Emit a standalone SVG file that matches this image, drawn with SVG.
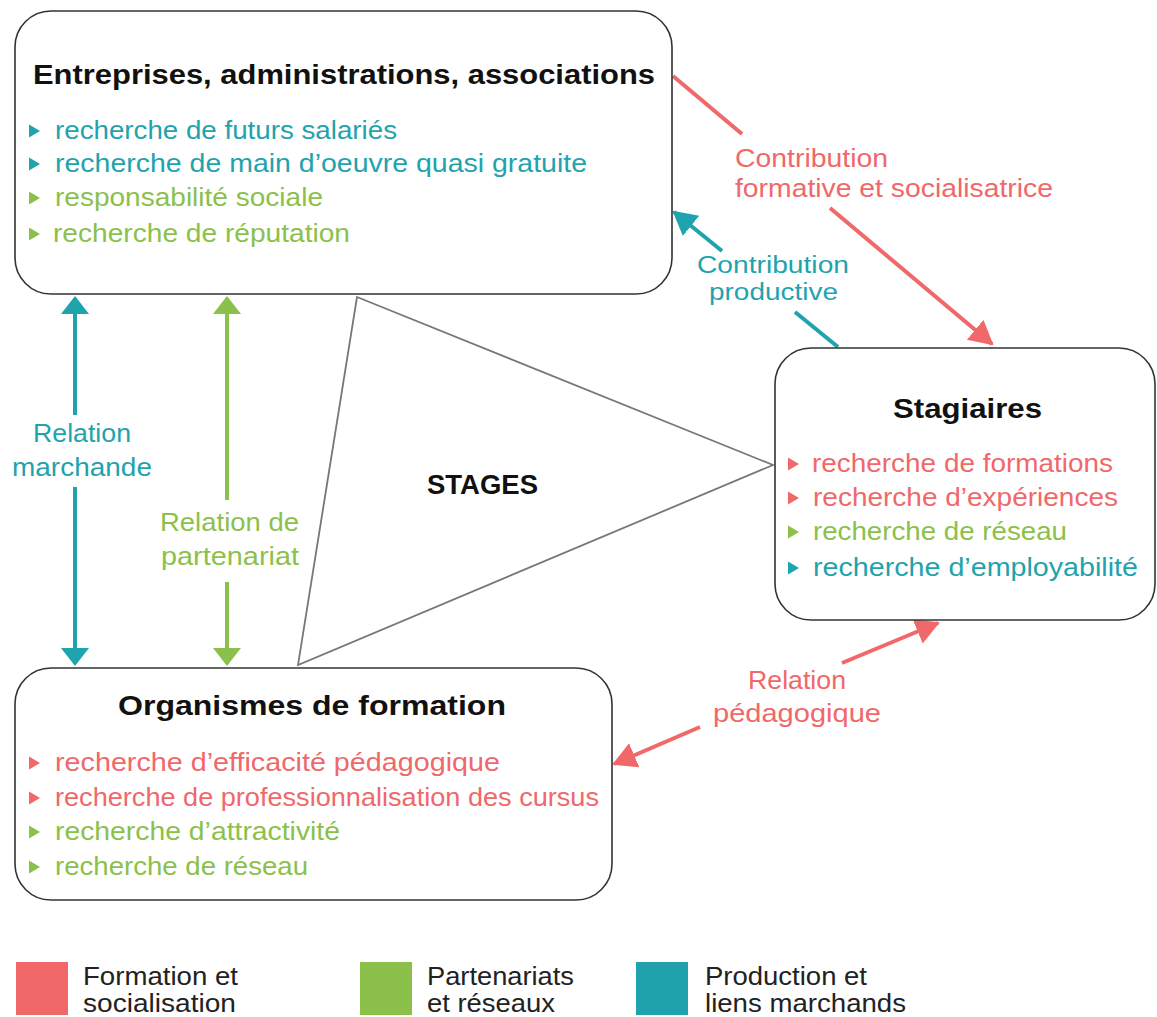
<svg xmlns="http://www.w3.org/2000/svg" width="1157" height="1017" viewBox="0 0 1157 1017">
<style>
text{font-family:"Liberation Sans","DejaVu Sans",sans-serif}
.box{fill:#fff;stroke:#333;stroke-width:1.6}
.h{font-weight:bold;font-size:27px;fill:#111}
.it{font-size:26px}
.r{fill:#f0686a}
.g{fill:#8bc14b}
.t{fill:#1fa3ad}
.lab{font-size:26px}
.sm{font-size:23px}
.leg{font-size:25px;fill:#222}
.lr{stroke:#f0686a;stroke-width:4;fill:none}
.lg{stroke:#8bc14b;stroke-width:4;fill:none}
.lt{stroke:#1fa3ad;stroke-width:4;fill:none}
</style>
<defs>
<marker id="ar" markerUnits="userSpaceOnUse" markerWidth="26" markerHeight="28" refX="22" refY="13" orient="auto"><path d="M0,0 L24,13 L0,26 z" fill="#f0686a"/></marker>
<marker id="at" markerUnits="userSpaceOnUse" markerWidth="26" markerHeight="28" refX="22" refY="13" orient="auto"><path d="M0,0 L24,13 L0,26 z" fill="#1fa3ad"/></marker>
<marker id="avt" markerUnits="userSpaceOnUse" markerWidth="22" markerHeight="30" refX="16" refY="14" orient="auto"><path d="M0,0 L18,14 L0,28 z" fill="#1fa3ad"/></marker>
<marker id="avg" markerUnits="userSpaceOnUse" markerWidth="22" markerHeight="30" refX="16" refY="14" orient="auto"><path d="M0,0 L18,14 L0,28 z" fill="#8bc14b"/></marker>
<path id="bul" d="M0,-6.5 L11,0 L0,6.5 z"/>
</defs>

<g id="connectors">
<line class="lt" x1="75" y1="415" x2="75" y2="298" marker-end="url(#avt)"/>
<line class="lt" x1="75" y1="487" x2="75" y2="664" marker-end="url(#avt)"/>
<line class="lg" x1="227" y1="500" x2="227" y2="298" marker-end="url(#avg)"/>
<line class="lg" x1="227" y1="582" x2="227" y2="664" marker-end="url(#avg)"/>
<line class="lr" x1="673" y1="76" x2="742" y2="134"/>
<line class="lr" x1="830" y1="208" x2="992" y2="344" marker-end="url(#ar)"/>
<line class="lt" x1="838" y1="347" x2="795" y2="312"/>
<line class="lt" x1="722" y1="251" x2="674" y2="212" marker-end="url(#at)"/>
<line class="lr" x1="700" y1="727" x2="614" y2="764" marker-end="url(#ar)"/>
<line class="lr" x1="842" y1="663" x2="938" y2="623" marker-end="url(#ar)"/>
<text class="lab r" x="735" y="167" textLength="153" lengthAdjust="spacingAndGlyphs">Contribution</text>
<text class="lab r" x="735" y="197" textLength="318" lengthAdjust="spacingAndGlyphs">formative et socialisatrice</text>
<text class="sm t" x="697" y="273" textLength="152" lengthAdjust="spacingAndGlyphs">Contribution</text>
<text class="sm t" x="709" y="300" textLength="129" lengthAdjust="spacingAndGlyphs">productive</text>
<text class="lab t" x="33" y="442" textLength="98" lengthAdjust="spacingAndGlyphs">Relation</text>
<text class="lab t" x="12" y="476" textLength="140" lengthAdjust="spacingAndGlyphs">marchande</text>
<text class="lab g" x="160" y="531" textLength="139" lengthAdjust="spacingAndGlyphs">Relation de</text>
<text class="lab g" x="161" y="565" textLength="138" lengthAdjust="spacingAndGlyphs">partenariat</text>
<text class="lab r" x="748" y="689" textLength="98" lengthAdjust="spacingAndGlyphs">Relation</text>
<text class="lab r" x="713" y="722" textLength="168" lengthAdjust="spacingAndGlyphs">pédagogique</text>
</g>

<g id="stages">
<polygon points="357,297 773,465 298,665" fill="#fff" stroke="#777" stroke-width="1.8"/>
<text class="h" x="427" y="494" textLength="111" lengthAdjust="spacingAndGlyphs">STAGES</text>
</g>

<g id="entreprises">
<rect class="box" x="15" y="11" width="657" height="283" rx="36"/>
<text class="h" x="33" y="84" textLength="622" lengthAdjust="spacingAndGlyphs">Entreprises, administrations, associations</text>
<use href="#bul" x="29" y="131" class="t"/>
<text class="it t" x="55" y="139" textLength="342" lengthAdjust="spacingAndGlyphs">recherche de futurs salariés</text>
<use href="#bul" x="29" y="164" class="t"/>
<text class="it t" x="55" y="172" textLength="532" lengthAdjust="spacingAndGlyphs">recherche de main d’oeuvre quasi gratuite</text>
<use href="#bul" x="29" y="198" class="g"/>
<text class="it g" x="55" y="206" textLength="268" lengthAdjust="spacingAndGlyphs">responsabilité sociale</text>
<use href="#bul" x="29" y="234" class="g"/>
<text class="it g" x="53" y="242" textLength="297" lengthAdjust="spacingAndGlyphs">recherche de réputation</text>
</g>

<g id="stagiaires">
<rect class="box" x="775" y="348" width="380" height="272" rx="36"/>
<text class="h" x="893" y="418" textLength="149" lengthAdjust="spacingAndGlyphs">Stagiaires</text>
<use href="#bul" x="788" y="464" class="r"/>
<text class="it r" x="812" y="472" textLength="301" lengthAdjust="spacingAndGlyphs">recherche de formations</text>
<use href="#bul" x="788" y="498" class="r"/>
<text class="it r" x="813" y="506" textLength="305" lengthAdjust="spacingAndGlyphs">recherche d’expériences</text>
<use href="#bul" x="788" y="532" class="g"/>
<text class="it g" x="813" y="540" textLength="254" lengthAdjust="spacingAndGlyphs">recherche de réseau</text>
<use href="#bul" x="788" y="568" class="t"/>
<text class="it t" x="813" y="576" textLength="325" lengthAdjust="spacingAndGlyphs">recherche d’employabilité</text>
</g>

<g id="organismes">
<rect class="box" x="15" y="668" width="597" height="232" rx="36"/>
<text class="h" x="118" y="715" textLength="388" lengthAdjust="spacingAndGlyphs">Organismes de formation</text>
<use href="#bul" x="29" y="763" class="r"/>
<text class="it r" x="55" y="771" textLength="445" lengthAdjust="spacingAndGlyphs">recherche d’efficacité pédagogique</text>
<use href="#bul" x="29" y="798" class="r"/>
<text class="it r" x="55" y="806" textLength="544" lengthAdjust="spacingAndGlyphs">recherche de professionnalisation des cursus</text>
<use href="#bul" x="29" y="832" class="g"/>
<text class="it g" x="55" y="840" textLength="285" lengthAdjust="spacingAndGlyphs">recherche d’attractivité</text>
<use href="#bul" x="29" y="867" class="g"/>
<text class="it g" x="55" y="875" textLength="253" lengthAdjust="spacingAndGlyphs">recherche de réseau</text>
</g>

<g id="legend">
<rect x="16" y="962" width="52" height="53" fill="#f06868"/>
<text class="leg" x="83" y="985" textLength="155" lengthAdjust="spacingAndGlyphs">Formation et</text>
<text class="leg" x="83" y="1012" textLength="153" lengthAdjust="spacingAndGlyphs">socialisation</text>
<rect x="360" y="962" width="52" height="53" fill="#8bc04b"/>
<text class="leg" x="427" y="985" textLength="147" lengthAdjust="spacingAndGlyphs">Partenariats</text>
<text class="leg" x="427" y="1012" textLength="128" lengthAdjust="spacingAndGlyphs">et réseaux</text>
<rect x="636" y="962" width="52" height="53" fill="#1fa2ac"/>
<text class="leg" x="705" y="985" textLength="162" lengthAdjust="spacingAndGlyphs">Production et</text>
<text class="leg" x="705" y="1012" textLength="201" lengthAdjust="spacingAndGlyphs">liens marchands</text>
</g>
</svg>
